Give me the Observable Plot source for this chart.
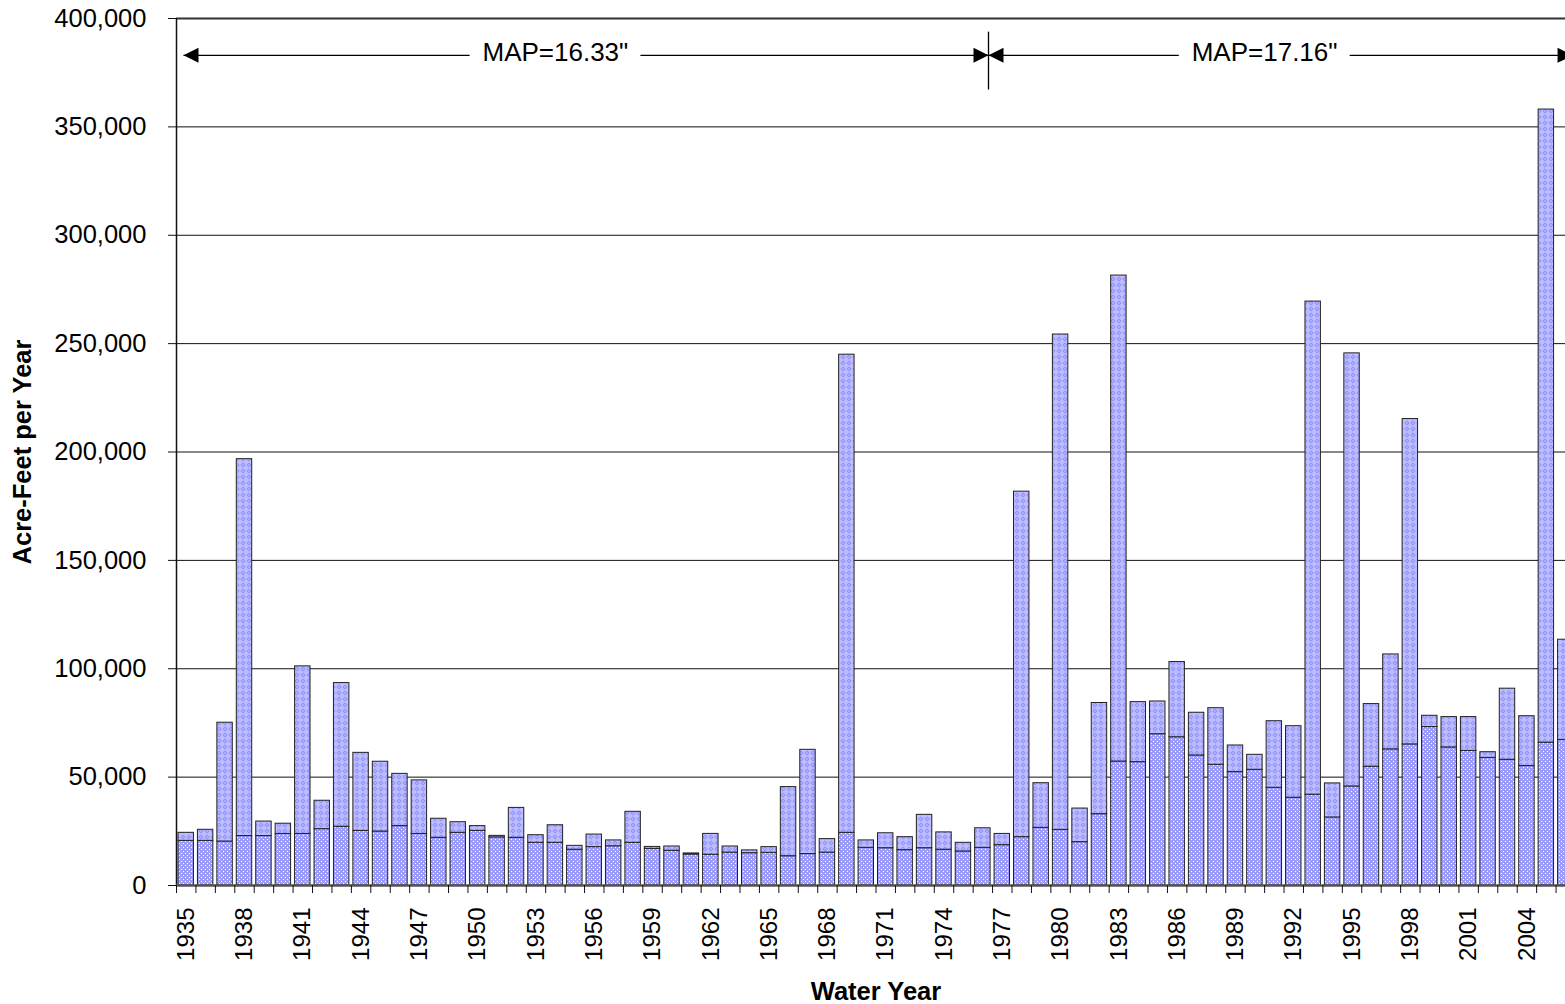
<!DOCTYPE html>
<html>
<head>
<meta charset="utf-8">
<script src="https://cdn.jsdelivr.net/npm/d3@7"></script>
<script src="https://cdn.jsdelivr.net/npm/@observablehq/plot@0.6"></script>
<style>
  html, body { margin: 0; padding: 0; background: #fff; overflow: hidden; }
  #chart svg { font-family: "Liberation Sans", Arial, sans-serif; }
</style>
</head>
<body>
<svg width="0" height="0" style="position:absolute">
  <defs>
    <pattern id="pLower" patternUnits="userSpaceOnUse" width="4" height="4">
      <rect width="4" height="4" fill="#9c9cff"/>
      <rect x="1" y="1" width="1" height="1" fill="#ffffff"/>
      <rect x="3" y="3" width="1" height="1" fill="#ffffff"/>
    </pattern>
    <pattern id="pUpper" patternUnits="userSpaceOnUse" width="6" height="6">
      <rect width="6" height="6" fill="#bcbcff"/>
      <path d="M3,0.5L5.5,3L3,5.5L0.5,3Z" fill="#8e8eff"/>
      <rect x="2.5" y="2.5" width="1" height="1" fill="#ffffff"/>
    </pattern>
  </defs>
</svg>
<div id="chart"></div>
<script>
// ---- data ----
const years = [1935,1936,1937,1938,1939,1940,1941,1942,1943,1944,1945,1946,1947,1948,1949,1950,
  1951,1952,1953,1954,1955,1956,1957,1958,1959,1960,1961,1962,1963,1964,1965,1966,1967,1968,1969,1970,
  1971,1972,1973,1974,1975,1976,1977,1978,1979,1980,1981,1982,1983,1984,1985,1986,1987,1988,1989,1990,
  1991,1992,1993,1994,1995,1996,1997,1998,1999,2000,2001,2002,2003,2004,2005,2006];

// lower segment of each bar (acre-feet)
const baseFlow = [20600,20600,20300,22800,22800,23800,23800,26000,27100,25200,24900,27400,23800,22000,24300,25200,
  22200,22000,19700,19700,16500,17700,18100,19700,16900,16000,14300,14200,15200,14900,15100,13500,14500,15200,24300,17400,
  17200,16300,17200,16500,15700,17400,18600,22300,26600,25700,20000,32900,57200,56900,69800,68400,60000,55700,52300,53400,
  45100,40500,41900,31400,45700,54800,62800,65100,73100,63700,62100,58900,58000,55100,65900,67200];

// total height of each bar (acre-feet)
const totalFlow = [24300,25700,75100,196700,29500,28500,101100,39100,93400,61200,57100,51500,48500,30800,29200,27400,
  22900,35800,23200,27800,18300,23500,20800,34000,17800,18000,14800,23800,18000,16200,17700,45400,62600,21400,244900,20800,
  24100,22300,32600,24500,19700,26400,23800,181700,47200,254200,35500,84200,281400,84600,84900,103100,79700,81800,64600,60300,
  75800,73500,269400,47100,245500,83700,106600,215200,78300,77700,77700,61500,90800,78100,358000,113400];

const yTicks = [0, 50000, 100000, 150000, 200000, 250000, 300000, 350000, 400000];
const xTickLabels = [1935,1938,1941,1944,1947,1950,1953,1956,1959,1962,1965,1968,1971,1974,1977,1980,1983,1986,1989,1992,1995,1998,2001,2004];

// MAP annotation periods (in water-year units)
const mapLabels = ['MAP=16.33"', 'MAP=17.16"'];
const mapStart = [1934.86, 1976.29];
const mapEnd = [1976.29, 2006.35];
const mapLabelAt = [1954.0, 1990.5];
const mapDivider = [1976.29];
const mapArrowLevel = 383000;
const mapDividerRange = [367000, 393700];

// ---- build tables ----
const rows = years.map((yr, i) => ({year: yr, base: baseFlow[i], total: totalFlow[i]}));
const periods = mapLabels.map((l, i) => ({label: l, start: mapStart[i], end: mapEnd[i], at: mapLabelAt[i]}));
const boundaries = years.map(y => y - 0.5).concat([years[years.length - 1] + 0.5]);
const xMin = years[0] - 0.5;
const fmt = d3.format(",");

const arrowLeft = {draw(c, size) { const r = Math.sqrt(size / Math.PI); c.moveTo(0, 0); c.lineTo(2.5 * r, -1.25 * r); c.lineTo(2.5 * r, 1.25 * r); c.closePath(); }};
const arrowRight = {draw(c, size) { const r = Math.sqrt(size / Math.PI); c.moveTo(0, 0); c.lineTo(-2.5 * r, -1.25 * r); c.lineTo(-2.5 * r, 1.25 * r); c.closePath(); }};

const chart = Plot.plot({
  width: 1565,
  height: 1004,
  marginLeft: 176,
  marginRight: 0,
  marginTop: 18,
  marginBottom: 119,
  x: {type: "linear", domain: [xMin, 2006.5], range: [176, 1575], axis: null},
  y: {domain: [0, 400000], axis: null},
  style: {fontFamily: '"Liberation Sans", Arial, sans-serif', color: "#000", background: "#fff"},
  marks: [
    // gridlines
    Plot.ruleY(yTicks.filter(d => d > 0 && d < 400000), {y: d => d, stroke: "#111", strokeWidth: 1}),
    Plot.ruleY([400000], {stroke: "#333", strokeWidth: 2}),
    // bars: lower and upper segments
    Plot.rect(rows, {x1: d => d.year - 0.5, x2: d => d.year + 0.5, y1: 0, y2: "base",
      insetLeft: 2, insetRight: 2, fill: "url(#pLower)", stroke: "#222", strokeWidth: 1}),
    Plot.rect(rows, {x1: d => d.year - 0.5, x2: d => d.year + 0.5, y1: "base", y2: "total",
      insetLeft: 2, insetRight: 2, fill: "url(#pUpper)", stroke: "#222", strokeWidth: 1}),
    // axes lines
    Plot.ruleX([xMin], {y1: 0, y2: 400000, stroke: "#111", strokeWidth: 1.5}),
    Plot.ruleY([0], {stroke: "#555", strokeWidth: 2.5}),
    // y ticks and labels
    Plot.ruleY(yTicks, {y: d => d, x1: xMin, x2: xMin, insetLeft: -8, stroke: "#111", strokeWidth: 1}),
    Plot.text(yTicks, {y: d => d, text: d => fmt(d), frameAnchor: "left", textAnchor: "end", dx: -30, fontSize: 25.5, fill: "#000"}),
    // x ticks and labels
    Plot.ruleX(boundaries, {x: d => d, y1: 0, y2: 0, insetBottom: -8, stroke: "#111", strokeWidth: 1}),
    Plot.text(xTickLabels, {x: d => d, y: 0, text: d => String(d), rotate: -90, textAnchor: "end", dy: 22, fontSize: 24, fill: "#000"}),
    // axis titles
    Plot.text(["Acre-Feet per Year"], {text: d => d, frameAnchor: "left", textAnchor: "middle", lineAnchor: "middle", dx: -154, rotate: -90, fontWeight: "bold", fontSize: 25.5, fill: "#000"}),
    Plot.text(["Water Year"], {text: d => d, frameAnchor: "bottom", textAnchor: "middle", lineAnchor: "middle", dx: 5, dy: 106, fontWeight: "bold", fontSize: 25.5, fill: "#000"}),
    // MAP annotation
    Plot.link(periods, {x1: "start", x2: "end", y1: mapArrowLevel, y2: mapArrowLevel, stroke: "#000", strokeWidth: 1.3}),
    Plot.ruleX(mapDivider, {x: d => d, y1: mapDividerRange[0], y2: mapDividerRange[1], stroke: "#000", strokeWidth: 1.3}),
    Plot.dot(periods, {x: "start", y: mapArrowLevel, symbol: arrowLeft, r: 6, fill: "#000", stroke: "none"}),
    Plot.dot(periods, {x: "end", y: mapArrowLevel, symbol: arrowRight, r: 6, fill: "#000", stroke: "none"}),
    Plot.text(periods, {x: "at", y: mapArrowLevel, text: "label", dy: -3, fontSize: 26, fill: "#000",
      stroke: "#fff", strokeWidth: 30, strokeLinejoin: "round", paintOrder: "stroke"})
  ]
});
document.getElementById("chart").appendChild(chart);
</script>
</body>
</html>
